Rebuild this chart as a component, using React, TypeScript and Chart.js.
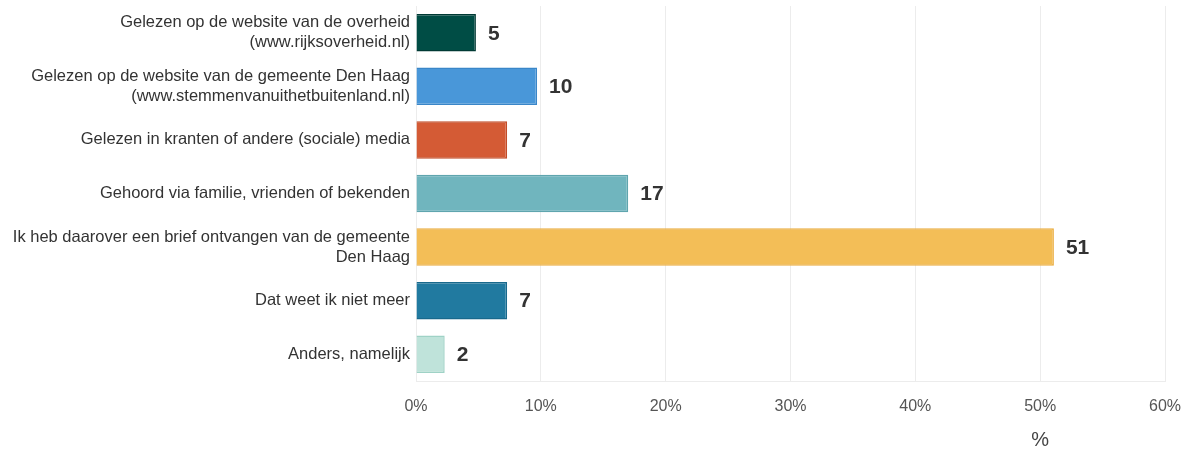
import React, { useEffect, useRef } from "react";
import { Chart, registerables } from "chart.js";

Chart.register(...registerables);

const categories: (string | string[])[] = [
  ["Gelezen op de website van de overheid", "(www.rijksoverheid.nl)"],
  ["Gelezen op de website van de gemeente Den Haag", "(www.stemmenvanuithetbuitenland.nl)"],
  "Gelezen in kranten of andere (sociale) media",
  "Gehoord via familie, vrienden of bekenden",
  ["Ik heb daarover een brief ontvangen van de gemeente", "Den Haag"],
  "Dat weet ik niet meer",
  "Anders, namelijk",
];
const values = [4.8, 9.7, 7.3, 17.0, 51.1, 7.3, 2.3];
const valueLabels = ["5", "10", "7", "17", "51", "7", "2"];
const barColors = ["#004d45", "#4997d9", "#d45b35", "#70b5be", "#f3be57", "#217aa0", "#bfe3da"];
const borderColors = ["#003a34", "#3a86c8", "#c24c28", "#5fa5ae", "#eaad3f", "#19698c", "#9fd2c6"];
const xTicks = [0, 10, 20, 30, 40, 50, 60];
const axisTitle = "%";

const FONT = "'Liberation Sans', Arial, sans-serif";

const valueLabelPlugin = {
  id: "valueLabels",
  afterDatasetsDraw(chart: any) {
    const ctx = chart.ctx;
    const meta = chart.getDatasetMeta(0);
    ctx.save();
    ctx.font = `bold 21px ${FONT}`;
    ctx.fillStyle = "#333333";
    ctx.textAlign = "left";
    ctx.textBaseline = "middle";
    meta.data.forEach((bar: any, i: number) => {
      ctx.fillText(valueLabels[i], bar.x + 12, bar.y + 1);
    });
    ctx.restore();
  },
};

const axisTitlePlugin = {
  id: "axisTitleAt",
  afterDraw(chart: any) {
    const ctx = chart.ctx;
    const xs = chart.scales.x;
    ctx.save();
    ctx.font = `20px ${FONT}`;
    ctx.fillStyle = "#444444";
    ctx.textAlign = "center";
    ctx.textBaseline = "middle";
    ctx.fillText(axisTitle, xs.getPixelForValue(50), 440);
    ctx.restore();
  },
};

export default function App() {
  const ref = useRef<HTMLCanvasElement | null>(null);
  useEffect(() => {
    if (!ref.current) return;
    const chart = new Chart(ref.current, {
      type: "bar",
      data: {
        labels: categories,
        datasets: [
          {
            data: values,
            backgroundColor: barColors,
            borderColor: borderColors,
            borderWidth: 1.5,
            categoryPercentage: 1,
            barPercentage: 0.7,
          },
        ],
      },
      options: {
        indexAxis: "y",
        animation: false,
        responsive: false,
        maintainAspectRatio: false,
        layout: { padding: { top: 6, right: 24, bottom: 0, left: 0 } },
        plugins: {
          legend: { display: false },
          tooltip: { enabled: false },
        },
        scales: {
          x: {
            min: 0,
            max: 60,
            afterBuildTicks(scale: any) {
              scale.ticks = xTicks.map((v) => ({ value: v }));
            },
            afterFit(scale: any) {
              scale.height = 71;
              scale.paddingLeft = 0;
              scale.paddingRight = 0;
            },
            ticks: {
              callback: (v: any) => `${v}%`,
              font: { family: FONT, size: 16 },
              color: "#555555",
              padding: 16,
            },
            grid: { color: "#ececec", drawTicks: false, lineWidth: 1 },
            border: { display: true, color: "#ececec" },
          },
          y: {
            afterFit(scale: any) {
              scale.width = 416;
              scale.paddingTop = 0;
              scale.paddingBottom = 0;
            },
            ticks: {
              font: { family: FONT, size: 16.5, lineHeight: 1.2 },
              color: "#333333",
              padding: 6,
            },
            grid: { display: false, drawTicks: false },
            border: { display: false },
          },
        },
      },
      plugins: [valueLabelPlugin, axisTitlePlugin],
    });
    return () => chart.destroy();
  }, []);
  return (
    <div style={{ position: "fixed", left: 0, top: 0, width: 1189, height: 452, background: "#fff" }}>
      <canvas ref={ref} width={1189} height={452} style={{ width: 1189, height: 452 }} />
    </div>
  );
}
